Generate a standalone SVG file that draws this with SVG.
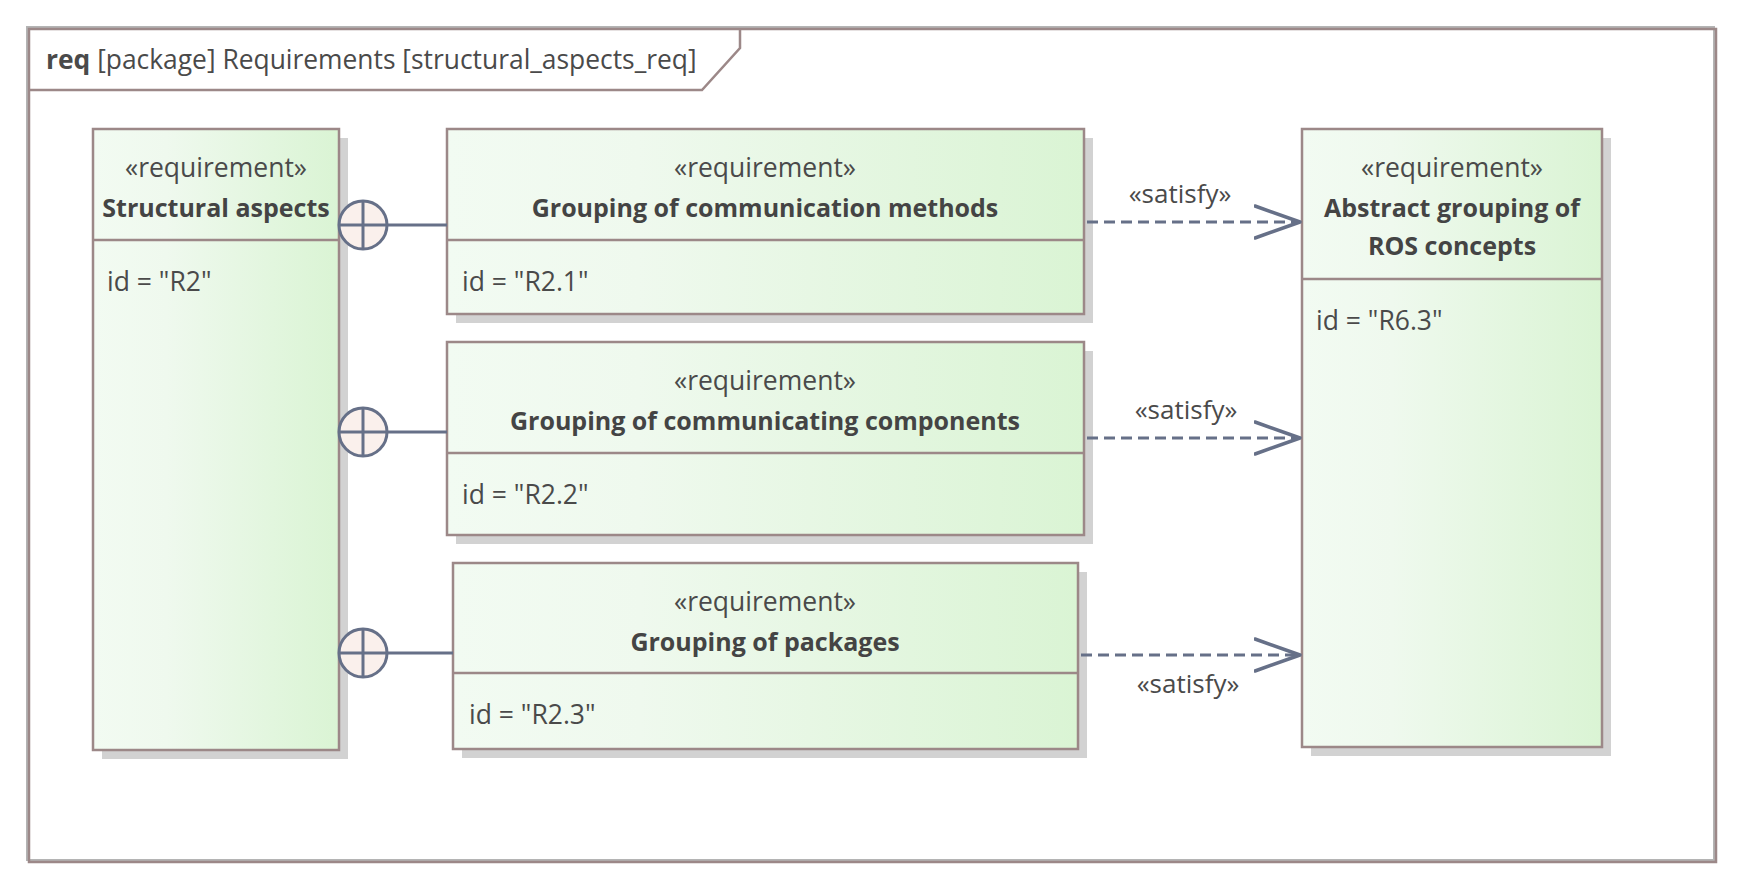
<svg xmlns="http://www.w3.org/2000/svg" width="1743" height="891" viewBox="0 0 1743 891">
<defs>
<linearGradient id="g" x1="0" y1="0" x2="1" y2="0">
<stop offset="0" stop-color="#F2FBF2"/>
<stop offset="0.3" stop-color="#EFF9EE"/>
<stop offset="1" stop-color="#DAF4D4"/>
</linearGradient>
<marker id="open" markerWidth="50" markerHeight="40" refX="46" refY="18" orient="auto" markerUnits="userSpaceOnUse">
<path d="M1,2 L46,18 L1,34" fill="none" stroke="#667088" stroke-width="3.5" stroke-linecap="round" stroke-linejoin="round"/>
</marker>
<style>
text{font-family:"Open Sans","Noto Sans","Liberation Sans",sans-serif;fill:#4A4A4A}
.st{font-size:26.5px;text-anchor:middle}
.tt{font-size:25px;font-weight:bold;text-anchor:middle;fill:#444444}
.id{font-size:26.5px}
.lb{font-size:26px;text-anchor:middle}
.box{fill:url(#g);stroke:#9C8888;stroke-width:2.5}
.sh{fill:#D2D2D2}
.dv{stroke:#9C8888;stroke-width:2.5}
.cont{stroke:#667088;stroke-width:3;fill:none}
.circ{fill:#FAF0EC;stroke:#667088;stroke-width:3}
.sat{stroke:#667088;stroke-width:3;stroke-dasharray:11,6;fill:none}
</style>
</defs>
<rect width="1743" height="891" fill="#FFFFFF"/>
<g id="frame">
<rect x="27" y="27" width="1687" height="833" fill="none" stroke="#B4B4B4" stroke-width="2"/>
<rect x="29" y="29" width="1687" height="833" fill="none" stroke="#9C8888" stroke-width="2.5"/>
<path d="M29,90 L702,90 L740,48 L740,29" fill="none" stroke="#9C8888" stroke-width="2.5"/>
<text x="46" y="69" style="font-size:26.4px"><tspan font-weight="bold">req</tspan> [package] Requirements [structural_aspects_req]</text>
</g>
<g id="structural_aspects">
<rect class="sh" x="102" y="138" width="246" height="621"/>
<rect class="box" x="93" y="129" width="246" height="621"/>
<line class="dv" x1="93" y1="240" x2="339" y2="240"/>
<text class="st" x="216" y="176.5">«requirement»</text>
<text class="tt" x="216" y="216.5">Structural aspects</text>
<text class="id" x="107" y="290.5">id = "R2"</text>
</g>
<g id="r2_1">
<rect class="sh" x="456" y="138" width="637" height="185"/>
<rect class="box" x="447" y="129" width="637" height="185"/>
<line class="dv" x1="447" y1="240" x2="1084" y2="240"/>
<text class="st" x="765" y="176.5">«requirement»</text>
<text class="tt" x="765" y="216.5">Grouping of communication methods</text>
<text class="id" x="462" y="290.5">id = "R2.1"</text>
</g>
<g id="r2_2">
<rect class="sh" x="456" y="351" width="637" height="193"/>
<rect class="box" x="447" y="342" width="637" height="193"/>
<line class="dv" x1="447" y1="453" x2="1084" y2="453"/>
<text class="st" x="765" y="389.5">«requirement»</text>
<text class="tt" x="765" y="429.5">Grouping of communicating components</text>
<text class="id" x="462" y="503.5">id = "R2.2"</text>
</g>
<g id="r2_3">
<rect class="sh" x="462" y="572" width="625" height="186"/>
<rect class="box" x="453" y="563" width="625" height="186"/>
<line class="dv" x1="453" y1="673" x2="1078" y2="673"/>
<text class="st" x="765" y="610.5">«requirement»</text>
<text class="tt" x="765" y="650.5">Grouping of packages</text>
<text class="id" x="469" y="723.5">id = "R2.3"</text>
</g>
<g id="r6_3">
<rect class="sh" x="1311" y="138" width="300" height="618"/>
<rect class="box" x="1302" y="129" width="300" height="618"/>
<line class="dv" x1="1302" y1="279" x2="1602" y2="279"/>
<text class="st" x="1452" y="176.5">«requirement»</text>
<text class="tt" x="1452" y="216.5">Abstract grouping of</text>
<text class="tt" x="1452" y="254.5">ROS concepts</text>
<text class="id" x="1316" y="329.5">id = "R6.3"</text>
</g>
<g id="connectors">
<line class="cont" x1="387" y1="225" x2="447" y2="225"/>
<line class="cont" x1="387" y1="432" x2="447" y2="432"/>
<line class="cont" x1="387" y1="653" x2="453" y2="653"/>
<circle class="circ" cx="363" cy="225" r="24"/>
<line class="cont" x1="339" y1="225" x2="387" y2="225"/>
<line class="cont" x1="363" y1="201" x2="363" y2="249"/>
<circle class="circ" cx="363" cy="432" r="24"/>
<line class="cont" x1="339" y1="432" x2="387" y2="432"/>
<line class="cont" x1="363" y1="408" x2="363" y2="456"/>
<circle class="circ" cx="363" cy="653" r="24"/>
<line class="cont" x1="339" y1="653" x2="387" y2="653"/>
<line class="cont" x1="363" y1="629" x2="363" y2="677"/>
<line class="sat" x1="1087" y1="222" x2="1300" y2="222" marker-end="url(#open)"/>
<line class="sat" x1="1087" y1="438" x2="1300" y2="438" marker-end="url(#open)"/>
<line class="sat" x1="1081" y1="655" x2="1300" y2="655" marker-end="url(#open)"/>
<text class="lb" x="1180" y="203">«satisfy»</text>
<text class="lb" x="1186" y="419">«satisfy»</text>
<text class="lb" x="1188" y="693">«satisfy»</text>
</g>
</svg>
